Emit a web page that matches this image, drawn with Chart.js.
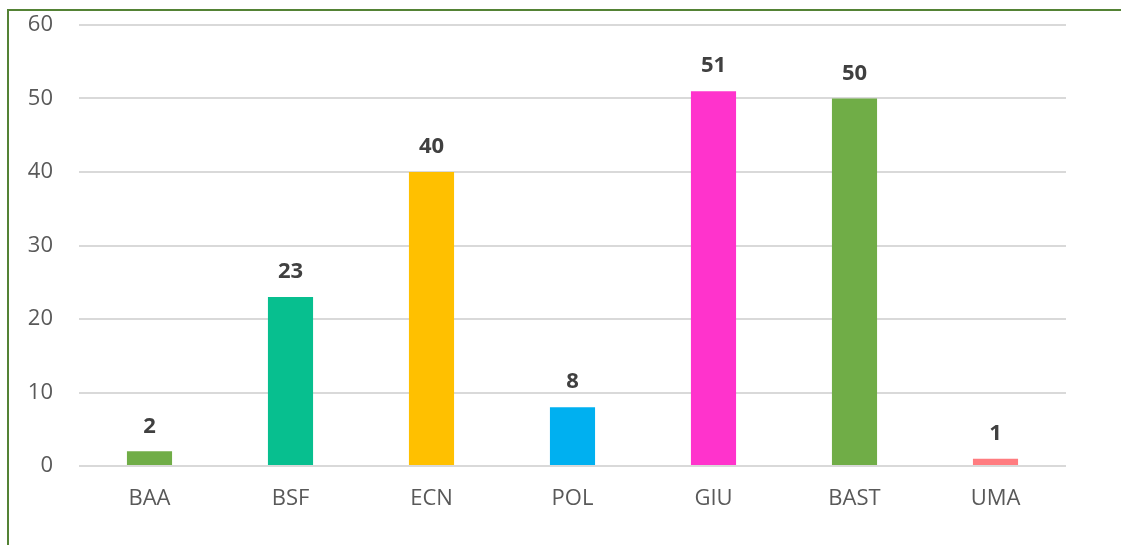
<!DOCTYPE html>
<html><head><meta charset="utf-8">
<script src="https://cdn.jsdelivr.net/npm/chart.js@4/dist/chart.umd.min.js"></script>
<style>
html,body{margin:0;padding:0;background:#fff;overflow:hidden}
#wrap{position:relative;width:1121px;height:545px}
#frame{position:absolute;left:7px;top:9px;width:1200px;height:600px;border-left:2px solid #548235;border-top:2px solid #548235;box-sizing:border-box;pointer-events:none}
canvas{position:absolute;left:0;top:0}
</style></head><body>
<div id="wrap"><canvas id="c" width="1121" height="545"></canvas><div id="frame"></div></div>
<script>
const categories = ['BAA','BSF','ECN','POL','GIU','BAST','UMA'];
const values = [2,23,40,8,51,50,1];
const barColors = ['#70ad47','#07bf8f','#ffc000','#00b0f0','#ff33cc','#70ad47','#ff7c80'];
const yTicks = [0,10,20,30,40,50,60];

const labelPlugin = {
  id:'vlabels',
  afterDatasetsDraw(chart){
    const ctx = chart.ctx;
    const meta = chart.getDatasetMeta(0);
    ctx.save();
    ctx.font = 'bold 22px "Open Sans", "Noto Sans", sans-serif';
    ctx.fillStyle = '#404040';
    ctx.textAlign = 'center';
    ctx.textBaseline = 'middle';
    meta.data.forEach((bar,i)=>{
      ctx.fillText(String(values[i]), bar.x, bar.y - 25);
    });
    ctx.restore();
  }
};

new Chart(document.getElementById('c'),{
  type:'bar',
  data:{labels:categories,datasets:[{data:values,backgroundColor:barColors,barPercentage:0.8,categoryPercentage:0.4}]},
  options:{
    responsive:false,animation:false,
    layout:{padding:{top:25,right:55,left:0,bottom:0}},
    plugins:{legend:{display:false},tooltip:{enabled:false}},
    scales:{
      x:{
        grid:{display:false,drawTicks:false},
        border:{display:false},
        ticks:{color:'#595959',font:{family:'"Open Sans","Noto Sans",sans-serif',size:22},padding:20},
        afterFit(s){s.height=79;s.paddingLeft=0;s.paddingRight=0;}
      },
      y:{
        min:0,max:60,
        afterBuildTicks(s){s.ticks = yTicks.map(v=>({value:v}));},
        grid:{color:'#d9d9d9',lineWidth:2,drawTicks:false},
        border:{display:false},
        ticks:{color:'#595959',font:{family:'"Open Sans","Noto Sans",sans-serif',size:22},padding:26},
        afterFit(s){s.width=79;s.paddingTop=0;s.paddingBottom=0;}
      }
    }
  },
  plugins:[labelPlugin]
});
</script>
</body></html>
